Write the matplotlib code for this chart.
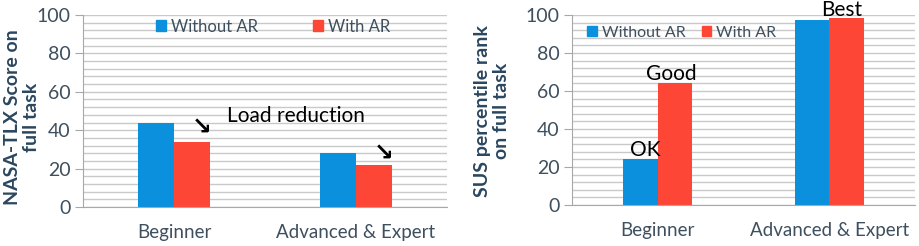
import matplotlib
matplotlib.use("Agg")
import matplotlib.pyplot as plt
from matplotlib.ticker import MultipleLocator
from matplotlib.patches import Patch
import numpy as np

categories = ["Beginner", "Advanced & Expert"]
series_names = ["Without AR", "With AR"]
tlx_without = [43.8, 28.1]
tlx_with = [34.1, 22.0]
sus_without = [24.0, 97.2]
sus_with = [64.0, 98.6]
yticks = [0, 20, 40, 60, 80, 100]

BLUE = "#0a90dc"
RED = "#fe4636"
GRID = "#c9c9c9"
TICKC = "#3e4f5e"
LABC = "#2b4760"

plt.rcParams['font.family'] = ['Lato', 'DejaVu Sans']

W, H = 920, 246
fig = plt.figure(figsize=(W/100, H/100), dpi=100)

def make_ax(l, r, top, bot):
    return fig.add_axes([l/W, (H-bot)/H, (r-l)/W, (bot-top)/H])

ax1 = make_ax(83, 447, 15, 207)
ax2 = make_ax(572, 915, 15, 205)

x = np.arange(len(categories))
bw = 0.2

def style(ax, ylabel, lx, ly):
    ax.set_xlim(-0.5, 1.5)
    ax.set_ylim(0, 100)
    ax.set_yticks(yticks)
    ax.yaxis.set_minor_locator(MultipleLocator(4))
    ax.grid(which='both', axis='y', color=GRID, linewidth=1.0)
    ax.set_axisbelow(True)
    for s in ['top', 'right']:
        ax.spines[s].set_visible(False)
    ax.spines['left'].set_color("#a8a8a8")
    ax.spines['bottom'].set_color("#a8a8a8")
    ax.tick_params(axis='y', which='major', length=6, color="#a8a8a8",
                   labelsize=14, labelcolor=TICKC, pad=3)
    ax.tick_params(axis='y', which='minor', length=0)
    ax.tick_params(axis='x', length=0, labelsize=13.5, labelcolor=TICKC, pad=12)
    ax.set_xticks(x)
    ax.set_xticklabels(categories)
    fig.text(lx / W, (H - ly) / H, ylabel, rotation=90, ha='center', va='center',
             fontsize=14, fontweight='bold', color=LABC, linespacing=1.15,
             multialignment='center')

handles = [Patch(color=BLUE), Patch(color=RED)]

# Left chart
ax1.bar(x - bw/2, tlx_without, bw, color=BLUE, label=series_names[0])
ax1.bar(x + bw/2, tlx_with, bw, color=RED, label=series_names[1])
style(ax1, "NASA-TLX Score on\nfull task", 22, 117)
ax1.text(0.67, 47.5, "Load reduction", fontsize=15, color='black', ha='center', va='center')
ax1.text(x[0] + bw/2 + 0.05, tlx_without[0] - 2.5, "\u2198", fontsize=17, color='black',
         ha='center', va='center', family='DejaVu Sans', fontweight='bold')
ax1.text(x[1] + bw/2 + 0.05, tlx_without[1] - 0.5, "\u2198", fontsize=17, color='black',
         ha='center', va='center', family='DejaVu Sans', fontweight='bold')
ax1.legend(handles, series_names, loc='center left', bbox_to_anchor=(0.2, 0.94),
           ncol=2, frameon=False, fontsize=12, labelcolor=TICKC,
           handlelength=0.6, handleheight=0.6, handletextpad=0.3, columnspacing=3.3,
           borderaxespad=0, borderpad=0)

# Right chart
ax2.bar(x - bw/2, sus_without, bw, color=BLUE, label=series_names[0])
ax2.bar(x + bw/2, sus_with, bw, color=RED, label=series_names[1])
style(ax2, "SUS percentile rank\non full task", 492, 111)
ax2.text(x[0] - bw/2 + 0.03, sus_without[0] + 5, "OK", fontsize=15, color='black',
         ha='center', va='center')
ax2.text(x[0] + bw/2 - 0.02, sus_with[0] + 5, "Good", fontsize=15, color='black',
         ha='center', va='center')
ax2.text(x[1] + 0.07, 102.5, "Best", fontsize=15, color='black',
         ha='center', va='center', clip_on=False)
ax2.legend(handles, series_names, loc='center left', bbox_to_anchor=(0.045, 0.905),
           ncol=2, frameon=False, fontsize=11.5, labelcolor=TICKC,
           handlelength=0.6, handleheight=0.6, handletextpad=0.3, columnspacing=1.0,
           borderaxespad=0, borderpad=0)

fig.savefig("out.png", dpi=100)
